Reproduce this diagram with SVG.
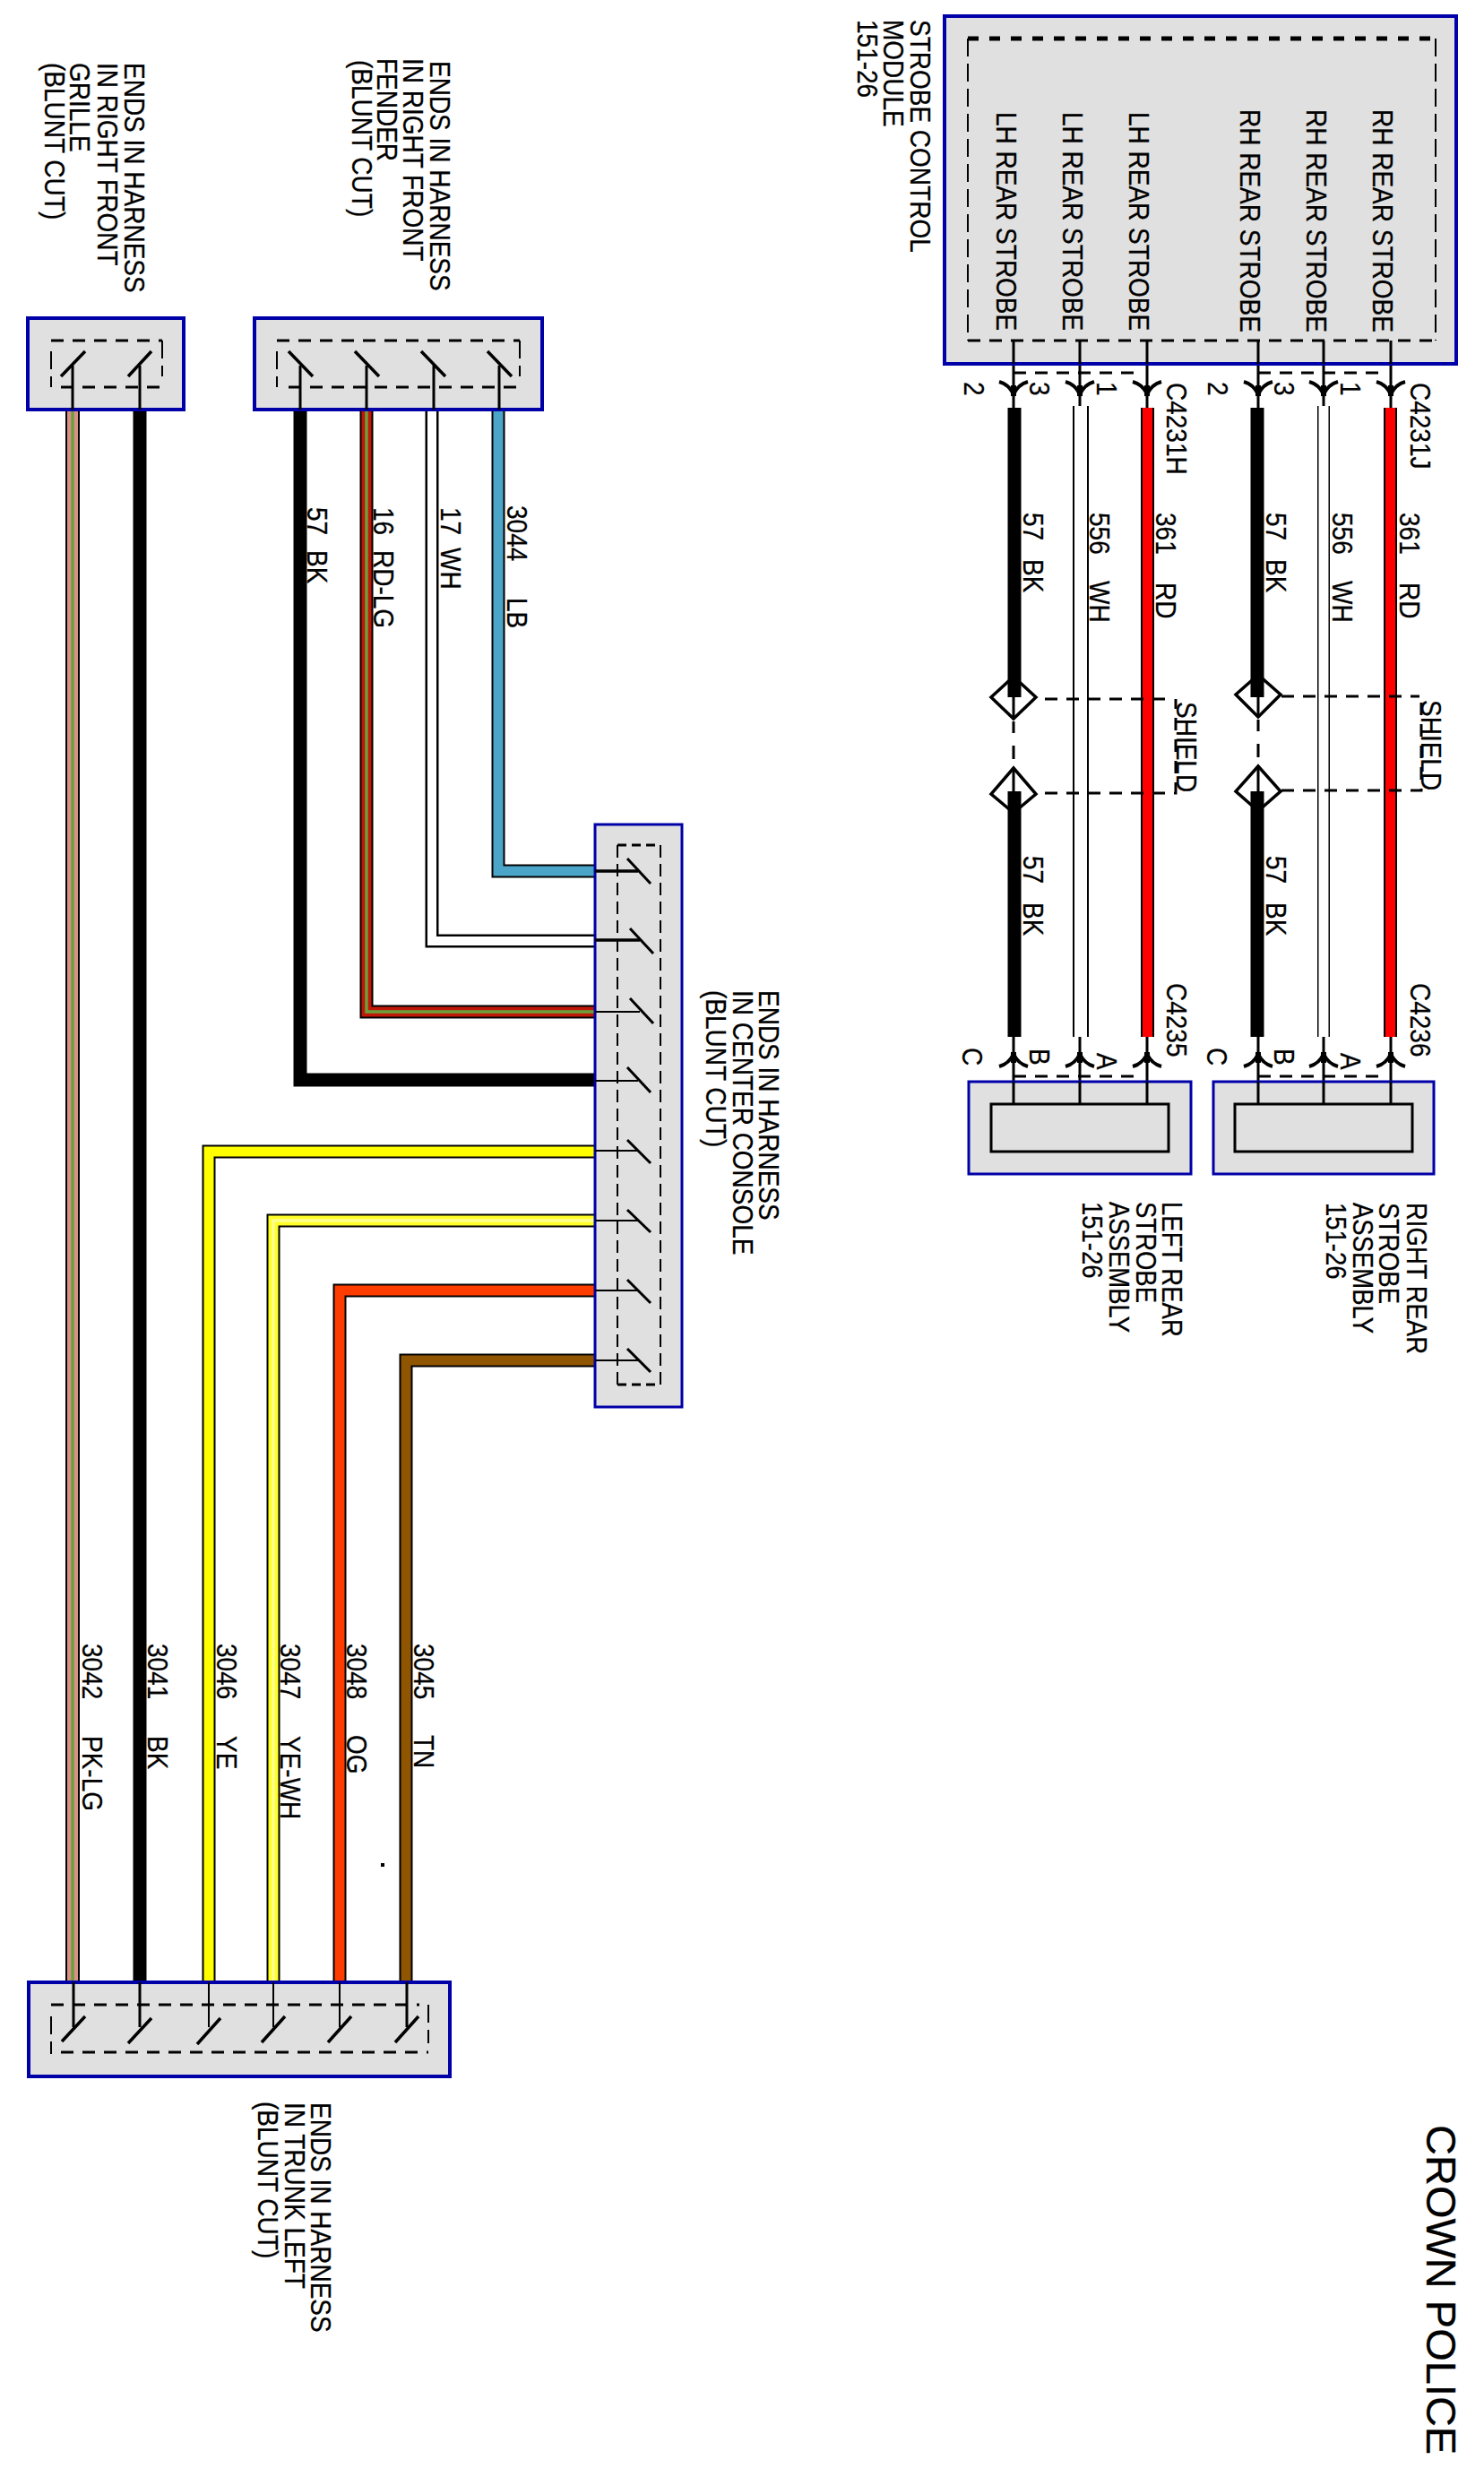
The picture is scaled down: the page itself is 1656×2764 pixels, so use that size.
<svg xmlns="http://www.w3.org/2000/svg" width="1656" height="2764" viewBox="0 0 1656 2764">
<style>
.t{font-family:"Liberation Sans",Arial,sans-serif;font-size:28px;fill:#000;stroke:#000;stroke-width:.25}
.box{fill:#e0e0e0;stroke:#0000a8;stroke-width:4}
.box2{fill:#e0e0e0;stroke:#0000a8;stroke-width:3}
.in{fill:#e0e0e0;stroke:#000;stroke-width:3}
.dt{fill:none;stroke:#000;stroke-width:3;stroke-dasharray:14 10}
.dv{fill:none;stroke:#000;stroke-width:2;stroke-dasharray:20 8}
.p{fill:none;stroke:#000;stroke-width:3}
.p2{fill:none;stroke:#000;stroke-width:2}
.bl{fill:none;stroke:#000;stroke-width:3.5}
.o{fill:none;stroke:#000;stroke-width:15;stroke-linejoin:miter}
.c{fill:none;stroke-width:11;stroke-linejoin:miter}
.s{fill:none;stroke-width:3.5;stroke-linejoin:miter}
.fork{fill:none;stroke:#000;stroke-width:4}
.dia{fill:none;stroke:#000;stroke-width:3.5}
</style>
<defs>
<g id="fd"><path class="fork" d="M-16,-8 Q-5,-5 0,6 Q5,-5 16,-8"/><rect x="-3" y="-4" width="6" height="12"/></g>
<g id="fu"><path class="fork" d="M-16,8 Q-5,5 0,-6 Q5,5 16,8"/><rect x="-3" y="-8" width="6" height="12"/></g>
</defs>
<rect width="1656" height="2764" fill="#fff"/>

<g id="connectors">
<path class="o" d="M1132,455V778M1132,883V1157"/>
<path class="o" d="M1206,453V1157" style="stroke-width:18"/><path class="c" stroke="#fff" d="M1206,453V1157" style="stroke-width:14"/>
<path class="o" d="M1280.500,455V1157"/><path class="c" stroke="#f00" d="M1280.500,455V1157"/>
<path class="o" d="M1403,455V778M1403,883V1157"/>
<path class="o" d="M1477,453V1157" style="stroke-width:14"/><path class="c" stroke="#fff" d="M1477,453V1157"/>
<path class="o" d="M1551.500,455V1157"/><path class="c" stroke="#f00" d="M1551.500,455V1157"/>

<path class="p" d="M1131,380V455M1205,380V453M1280,380V455M1404,380V455M1477,380V453M1552,380V455"/>
<path class="p" d="M1131,1157V1232M1205,1157V1232M1280,1157V1232M1404,1157V1232M1477,1157V1232M1552,1157V1232"/>
<use href="#fd" x="1131" y="434"/><use href="#fd" x="1205" y="434"/><use href="#fd" x="1280" y="434"/>
<use href="#fd" x="1404" y="434"/><use href="#fd" x="1477" y="434"/><use href="#fd" x="1552" y="434"/>
<use href="#fu" x="1131" y="1182"/><use href="#fu" x="1205" y="1182"/><use href="#fu" x="1280" y="1182"/>
<use href="#fu" x="1404" y="1182"/><use href="#fu" x="1477" y="1182"/><use href="#fu" x="1552" y="1182"/>
<path class="dt" d="M1131,416H1270M1404,416H1542M1131,1201H1270M1404,1201H1542"/>

<path class="p" d="M1131,778V802M1131,857V883M1404,775V800M1404,855V883"/>
<path class="p" d="M1131,805V818M1131,832V847M1404,803V816M1404,830V845"/>
<path class="dia" d="M1131,755L1156,778L1131,802L1106,778ZM1131,857L1156,886L1131,907L1106,886Z"/>
<path class="dia" d="M1404,753L1429,775L1404,800L1379,775ZM1404,855L1429,883L1404,905L1379,883Z"/>
<path class="dt" d="M1166,780H1306M1166,885H1312V780"/>
<path class="dt" d="M1430,777H1584M1430,882H1586V777"/>

<path class="o" d="M81,457V2212" style="stroke-width:16"/><path class="c" stroke="#d89088" d="M81,457V2212" style="stroke-width:12"/><path class="s" stroke="#6aa03c" d="M81,457V2212"/>
<path class="o" d="M156,457V2212"/>
<path class="o" d="M233,2212V1285H664"/><path class="c" stroke="#ff0" d="M233,2212V1285H664"/>
<path class="o" d="M305,2212V1362H664"/><path class="c" stroke="#ffff28" d="M305,2212V1362H664"/><path class="s" stroke="#ffff90" d="M305,2212V1362H664"/>
<path class="o" d="M379,2212V1440H664"/><path class="c" stroke="#ff3c00" d="M379,2212V1440H664"/>
<path class="o" d="M453,2212V1518H664"/><path class="c" stroke="#8f5500" d="M453,2212V1518H664"/>
<path class="o" d="M335,457V1205H664"/>
<path class="o" d="M409,457V1129H664"/><path class="c" stroke="#c01808" d="M409,457V1129H664"/><path class="s" stroke="#6aa03c" d="M409,457V1129H664"/>
<path class="o" d="M482,457V1050H664" style="stroke-width:15"/><path class="c" stroke="#fff" d="M482,457V1050H664" style="stroke-width:10"/>
<path class="o" d="M556,457V972H664"/><path class="c" stroke="#4ba5c8" d="M556,457V972H664"/>
</g>

<g id="strobe-module">
<rect class="box" x="1054" y="18" width="571" height="388"/>
<path d="M1080,43H1602" fill="none" stroke="#000" stroke-width="5" stroke-dasharray="12 12"/>
<path class="dv" d="M1080,43V380M1602,43V380"/>
<path class="dt" d="M1080,380H1602"/>
<path class="p" d="M1131,380V406M1205,380V406M1280,380V406M1404,380V406M1477,380V406M1552,380V406"/>
<text class="t" transform="matrix(0 1 -1.12 0 1112 125)">LH REAR STROBE</text>
<text class="t" transform="matrix(0 1 -1.12 0 1186 125)">LH REAR STROBE</text>
<text class="t" transform="matrix(0 1 -1.12 0 1260 125)">LH REAR STROBE</text>
<text class="t" transform="matrix(0 1 -1.12 0 1384 122)">RH REAR STROBE</text>
<text class="t" transform="matrix(0 1 -1.12 0 1458 122)">RH REAR STROBE</text>
<text class="t" transform="matrix(0 1 -1.12 0 1532 122)">RH REAR STROBE</text>
</g>

<g id="strobe-module-label">
<text class="t" transform="matrix(0 1 -1.12 0 1016 22)">STROBE  CONTROL</text>
<text class="t" transform="matrix(0 1 -1.12 0 986 22)">MODULE</text>
<text class="t" transform="matrix(0 1 -1.12 0 957 22)">151-26</text>
</g>

<g id="pin-labels">
<text class="t" transform="matrix(0 1 -1.12 0 1076 426)">2</text>
<text class="t" transform="matrix(0 1 -1.12 0 1149 426)">3</text>
<text class="t" transform="matrix(0 1 -1.12 0 1224 426)">1</text>
<text class="t" transform="matrix(0 1 -1.12 0 1302 427)">C4231H</text>
<text class="t" transform="matrix(0 1 -1.12 0 1348 426)">2</text>
<text class="t" transform="matrix(0 1 -1.12 0 1422 426)">3</text>
<text class="t" transform="matrix(0 1 -1.12 0 1496 426)">1</text>
<text class="t" transform="matrix(0 1 -1.12 0 1574 427)">C4231J</text>
<text class="t" transform="matrix(0 1 -1.12 0 1302 1097)">C4235</text>
<text class="t" transform="matrix(0 1 -1.12 0 1574 1097)">C4236</text>
<text class="t" transform="matrix(0 1 -1.12 0 1074 1169)">C</text>
<text class="t" transform="matrix(0 1 -1.12 0 1149 1170)">B</text>
<text class="t" transform="matrix(0 1 -1.12 0 1224 1175)">A</text>
<text class="t" transform="matrix(0 1 -1.12 0 1347 1169)">C</text>
<text class="t" transform="matrix(0 1 -1.12 0 1422 1170)">B</text>
<text class="t" transform="matrix(0 1 -1.12 0 1496 1175)">A</text>
</g>

<g id="wire-labels">
<text class="t" transform="matrix(0 1 -1.12 0 1142 572)"><tspan x="0">57</tspan> <tspan x="52">BK</tspan></text>
<text class="t" transform="matrix(0 1 -1.12 0 1216 572)"><tspan x="0">556</tspan> <tspan x="76">WH</tspan></text>
<text class="t" transform="matrix(0 1 -1.12 0 1290 572)"><tspan x="0">361</tspan> <tspan x="78">RD</tspan></text>
<text class="t" transform="matrix(0 1 -1.12 0 1413 572)"><tspan x="0">57</tspan> <tspan x="52">BK</tspan></text>
<text class="t" transform="matrix(0 1 -1.12 0 1487 572)"><tspan x="0">556</tspan> <tspan x="76">WH</tspan></text>
<text class="t" transform="matrix(0 1 -1.12 0 1562 572)"><tspan x="0">361</tspan> <tspan x="78">RD</tspan></text>
<text class="t" transform="matrix(0 1 -1.12 0 1142 955)"><tspan x="0">57</tspan> <tspan x="52">BK</tspan></text>
<text class="t" transform="matrix(0 1 -1.12 0 1413 955)"><tspan x="0">57</tspan> <tspan x="52">BK</tspan></text>
<text class="t" transform="matrix(0 1 -1.12 0 1313 783)">SHIELD</text>
<text class="t" transform="matrix(0 1 -1.12 0 1586 781)">SHIELD</text>
<text class="t" transform="matrix(0 1 -1.12 0 343 566)"><tspan x="0">57</tspan> <tspan x="48">BK</tspan></text>
<text class="t" transform="matrix(0 1 -1.12 0 417 566)"><tspan x="0">16</tspan> <tspan x="48">RD-LG</tspan></text>
<text class="t" transform="matrix(0 1 -1.12 0 492 566)"><tspan x="0">17</tspan> <tspan x="45">WH</tspan></text>
<text class="t" transform="matrix(0 1 -1.12 0 566 564)"><tspan x="0">3044</tspan> <tspan x="103">LB</tspan></text>
<text class="t" transform="matrix(0 1 -1.12 0 92 1834)"><tspan x="0">3042</tspan> <tspan x="103">PK-LG</tspan></text>
<text class="t" transform="matrix(0 1 -1.12 0 165 1834)"><tspan x="0">3041</tspan> <tspan x="103">BK</tspan></text>
<text class="t" transform="matrix(0 1 -1.12 0 242 1834)"><tspan x="0">3046</tspan> <tspan x="103">YE</tspan></text>
<text class="t" transform="matrix(0 1 -1.12 0 313 1834)"><tspan x="0">3047</tspan> <tspan x="103">YE-WH</tspan></text>
<text class="t" transform="matrix(0 1 -1.12 0 387 1834)"><tspan x="0">3048</tspan> <tspan x="102">OG</tspan></text>
<text class="t" transform="matrix(0 1 -1.12 0 462 1834)"><tspan x="0">3045</tspan> <tspan x="102">TN</tspan></text>
<rect x="425" y="2079" width="4" height="4"/>
</g>

<g id="left-rear-strobe">
<rect class="box2" x="1081" y="1207" width="248" height="103"/>
<rect class="in" x="1106" y="1232" width="198" height="53"/>
<path class="p" d="M1131,1207V1232M1205,1207V1232M1280,1207V1232"/>
<text class="t" style="font-size:27.500px" transform="matrix(0 1 -1.12 0 1297 1341)">LEFT REAR</text>
<text class="t" style="font-size:27.500px" transform="matrix(0 1 -1.12 0 1268 1341)">STROBE</text>
<text class="t" style="font-size:27.500px" transform="matrix(0 1 -1.12 0 1238 1341)">ASSEMBLY</text>
<text class="t" style="font-size:27.500px" transform="matrix(0 1 -1.12 0 1208 1341)">151-26</text>
</g>

<g id="right-rear-strobe">
<rect class="box2" x="1354" y="1207" width="246" height="103"/>
<rect class="in" x="1378" y="1232" width="198" height="53"/>
<path class="p" d="M1404,1207V1232M1477,1207V1232M1552,1207V1232"/>
<text class="t" style="font-size:27.500px" transform="matrix(0 1 -1.12 0 1570 1342)">RIGHT REAR</text>
<text class="t" style="font-size:27.500px" transform="matrix(0 1 -1.12 0 1539 1342)">STROBE</text>
<text class="t" style="font-size:27.500px" transform="matrix(0 1 -1.12 0 1510 1342)">ASSEMBLY</text>
<text class="t" style="font-size:27.500px" transform="matrix(0 1 -1.12 0 1480 1342)">151-26</text>
</g>

<g id="grille-end">
<rect class="box" x="31" y="355" width="174" height="102"/>
<path class="dt" d="M57,380H181M68,432H181"/>
<path class="dv" d="M57,392V432M181,380V420"/>
<path class="p" d="M81,457V408M156,457V408"/>
<path class="bl" d="M68,420L95,392M143,420L169,392"/>
<text class="t" transform="matrix(0 1 -1.12 0 139 70)">ENDS IN HARNESS</text>
<text class="t" transform="matrix(0 1 -1.12 0 109 70)">IN RIGHT FRONT</text>
<text class="t" transform="matrix(0 1 -1.12 0 78 70)">GRILLE</text>
<text class="t" transform="matrix(0 1 -1.12 0 50 70)">(BLUNT  CUT)</text>
</g>

<g id="fender-end">
<rect class="box" x="284" y="355" width="321" height="102"/>
<path class="dt" d="M309,380H580M322,432H580"/>
<path class="dv" d="M309,392V432M580,380V420"/>
<path class="p" d="M335,457V408M409,457V408M484,457V408M557,457V408"/>
<path class="bl" d="M322,392L349,420M396,392L423,420M470,392L497,420M544,392L571,420"/>
<text class="t" transform="matrix(0 1 -1.12 0 480 68)">ENDS IN HARNESS</text>
<text class="t" transform="matrix(0 1 -1.12 0 450 65)">IN RIGHT  FRONT</text>
<text class="t" transform="matrix(0 1 -1.12 0 421 65)">FENDER</text>
<text class="t" transform="matrix(0 1 -1.12 0 393 67)">(BLUNT  CUT)</text>
</g>

<g id="console-end">
<rect class="box2" x="664" y="920" width="97" height="650"/>
<path class="dv" d="M689,943V1545M737,943V1545" style="stroke-dasharray:14 7"/>
<path class="p2" d="M689,943H737M689,1545H737" style="stroke-dasharray:10 6;stroke-width:3"/>
<path class="bl" d="M664,972H712M664,1049H714"/>
<path class="p2" d="M664,1129H714M664,1206H712M664,1284H712M664,1362H712M664,1440H712M664,1518H712"/>
<path class="bl" style="stroke-width:3" d="M700,958L726,986M703,1036L729,1064M703,1114L729,1142M700,1191L726,1219M700,1272L726,1298M700,1350L726,1375M700,1428L726,1454M700,1505L726,1531"/>
<text class="t" transform="matrix(0 1 -1.12 0 847 1105)">ENDS IN HARNESS</text>
<text class="t" transform="matrix(0 1 -1.12 0 818 1105)">IN CENTER CONSOLE</text>
<text class="t" transform="matrix(0 1 -1.12 0 788 1105)">(BLUNT  CUT)</text>
</g>

<g id="trunk-end">
<rect class="box" x="32" y="2212" width="470" height="105"/>
<path class="dt" d="M57,2237H468M68,2290H478"/>
<path class="dv" d="M57,2250V2292M478,2237V2280"/>
<path class="p" d="M82,2212V2262M156,2212V2262M454,2212V2262"/>
<path class="p2" d="M233,2212V2262M305,2212V2262M379,2212V2262"/>
<path class="bl" d="M69,2278L95,2250M143,2280L169,2252M220,2281L246,2252M292,2279L318,2250M366,2279L392,2250M441,2279L467,2250"/>
<text class="t" transform="matrix(0 1 -1.12 0 347 2346)">ENDS IN  HARNESS</text>
<text class="t" transform="matrix(0 1 -1.12 0 318 2346)">IN TRUNK LEFT</text>
<text class="t" transform="matrix(0 1 -1.12 0 288 2345)">(BLUNT CUT)</text>
</g>

<g id="title">
<text style="font-family:'Liberation Sans',Arial,sans-serif;font-size:47px;stroke:#000;stroke-width:.3" transform="matrix(0 1 -1 0 1592 2371)">CROWN POLICE</text>
</g>
</svg>
